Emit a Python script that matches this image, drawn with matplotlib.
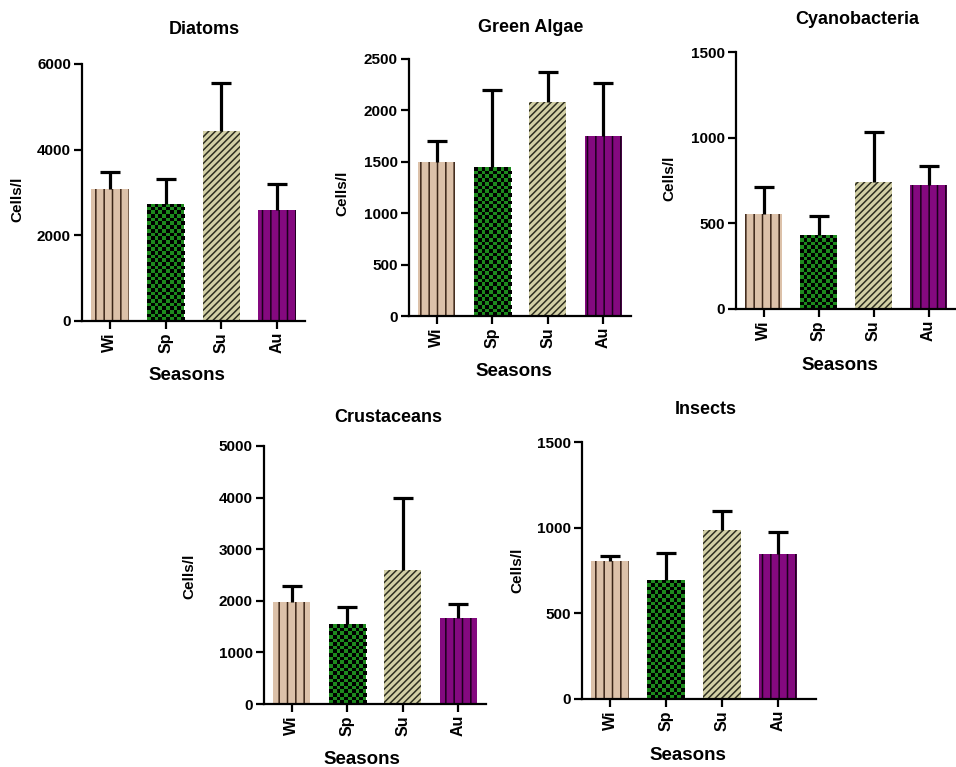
import numpy as np
import matplotlib
matplotlib.use('Agg')
import matplotlib.pyplot as plt

plt.rcParams['font.family'] = ['Liberation Sans', 'DejaVu Sans']
plt.rcParams['font.weight'] = 'bold'
plt.rcParams['hatch.linewidth'] = 1.1

# Seasons on the x axis
SEASONS = ['Wi', 'Sp', 'Su', 'Au']

# Mean cells/l and upper error per season
diatoms_mean = [3080, 2740, 4440, 2600]
diatoms_err = [400, 580, 1110, 590]
green_mean = [1500, 1445, 2080, 1750]
green_err = [200, 750, 295, 515]
cyano_mean = [553, 434, 739, 724]
cyano_err = [157, 107, 296, 109]
crust_mean = [1980, 1550, 2600, 1660]
crust_err = [310, 335, 1400, 285]
insect_mean = [805, 696, 986, 846]
insect_err = [27, 154, 114, 131]

FILLS = ['#dcc1a9', '#1d8a1d', '#d3d0a6', '#84097f']
HATCH_COLORS = ['#3a2416', 'black', '#2e2e20', '#1a001a']
HATCHES = ['||', None, '/////', '||']

W, H = 956, 767
fig = plt.figure(figsize=(W / 100, H / 100), dpi=100)


def px_rect(l, t, r, b):
    return [l / W, 1 - b / H, (r - l) / W, (b - t) / H]


def px_text(x, y, s, size, rot=0):
    fig.text(x / W, 1 - y / H, s, ha='center', va='center', fontsize=size,
             fontweight='bold', rotation=rot)


def checker(ax, bar, size_px=3.7):
    # black checkerboard on top of the green bar
    x0, y0 = bar.get_x(), bar.get_y()
    w, h = bar.get_width(), bar.get_height()
    p0 = ax.transData.transform((x0, y0))
    p1 = ax.transData.transform((x0 + w, y0 + h))
    nx = max(1, int(round((p1[0] - p0[0]) / size_px)))
    ny = max(1, int(round((p1[1] - p0[1]) / size_px)))
    grid = np.add.outer(np.arange(ny), np.arange(nx)) % 2
    rgba = np.zeros((ny, nx, 4))
    rgba[..., 3] = grid
    im = ax.imshow(rgba, extent=(x0, x0 + w, y0, y0 + h), aspect='auto',
                   interpolation='nearest', origin='lower', zorder=2.5)
    im.set_clip_path(bar)


# title, means, errors, ymax, ystep, axes box (px), title pos, ylabel pos, xlabel pos, xmax
panels = [
    ('Diatoms', diatoms_mean, diatoms_err, 6000, 2000, (82, 64, 305, 321),
     (204, 30), (17, 199), (187, 376), 3.5),
    ('Green Algae', green_mean, green_err, 2500, 500, (409, 59, 631, 316),
     (531, 27), (342, 193), (514, 371), 3.5),
    ('Cyanobacteria', cyano_mean, cyano_err, 1500, 500, (736, 52, 956, 309),
     (857, 20), (669, 178), (840, 366), 3.5),
    ('Crustaceans', crust_mean, crust_err, 5000, 1000, (264, 446, 486, 704),
     (388, 417), (189, 576), (362, 760), 3.5),
    ('Insects', insect_mean, insect_err, 1500, 500, (582, 442, 816, 699),
     (706, 409), (517, 570), (688, 755), 3.68),
]

for title, mean, err, ymax, ystep, box, tpos, ypos, xpos, xmax in panels:
    ax = fig.add_axes(px_rect(*box))
    x = np.arange(len(SEASONS))
    ax.set_xlim(-0.5, xmax)
    ax.set_ylim(0, ymax)
    bars = ax.bar(x, mean, width=0.67, color=FILLS, edgecolor=HATCH_COLORS,
                  linewidth=0, zorder=2)
    for bar, h in zip(bars, HATCHES):
        if h:
            bar.set_hatch(h)
    checker(ax, bars[1])
    eb = ax.errorbar(x, mean, yerr=[np.zeros(len(err)), err], fmt='none',
                     ecolor='black', elinewidth=2.3, capsize=7.5, capthick=2.3,
                     zorder=3)
    # only the upper cap is shown
    eb[1][0].set_visible(False)
    ax.set_xlim(-0.5, xmax)
    ax.set_ylim(0, ymax)
    ax.set_yticks(np.arange(0, ymax + 1, ystep))
    ax.set_xticks(x)
    ax.set_xticklabels(SEASONS, rotation=90, fontsize=11.5, fontweight='bold')
    for lab in ax.get_yticklabels():
        lab.set_fontsize(11)
        lab.set_fontweight('bold')
    ax.spines[['top', 'right']].set_visible(False)
    for s in ('left', 'bottom'):
        ax.spines[s].set_linewidth(1.6)
    ax.tick_params(width=1.6, length=6, pad=2)
    ax.patch.set_alpha(0)

    px_text(*tpos, title, 13)
    px_text(*ypos, 'Cells/l', 11, rot=90)
    px_text(*xpos, 'Seasons', 13.5)

fig.savefig('out.png', dpi=100)
